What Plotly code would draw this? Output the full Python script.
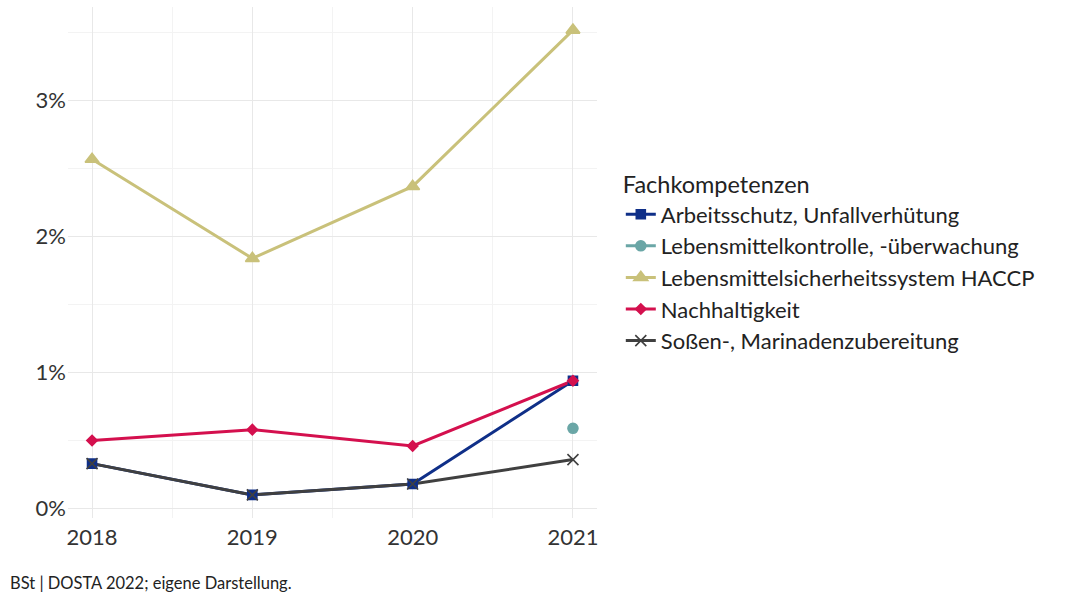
import plotly.graph_objects as go

years = [2018, 2019, 2020, 2021]
series_names = [
    "Arbeitsschutz, Unfallverhütung",
    "Lebensmittelkontrolle, -überwachung",
    "Lebensmittelsicherheitssystem HACCP",
    "Nachhaltigkeit",
    "Soßen-, Marinadenzubereitung",
]
arbeitsschutz = [0.0033, 0.0010, 0.0018, 0.0094]
lebensmittelkontrolle = [None, None, None, 0.0059]
haccp = [0.0257, 0.0184, 0.0237, 0.0352]
nachhaltigkeit = [0.0050, 0.0058, 0.0046, 0.0094]
sossen = [0.0033, 0.0010, 0.0018, 0.0036]
y_ticks = [0, 0.01, 0.02, 0.03]
y_tick_labels = ["0%", "1%", "2%", "3%"]

values = [arbeitsschutz, lebensmittelkontrolle, haccp, nachhaltigkeit, sossen]
colors = ["#0f2f88", "#6aa6a6", "#c9c17a", "#d4104e", "#404040"]
symbols = ["square", "circle", "triangle-up", "diamond", "x-thin-open"]
sizes = [9, 10, 12, 8, 11]

FONT = "Lato"
fig = go.Figure()

# legend entries
for name, c, s, sz in zip(series_names, colors, symbols, sizes):
    fig.add_trace(go.Scatter(
        x=[None], y=[None], mode="lines+markers", name=name,
        line=dict(color=c, width=3),
        marker=dict(symbol=s, size=sz, color=c, line=dict(color=c, width=1.6)),
    ))

# lines first
for name, vals, c in zip(series_names, values, colors):
    fig.add_trace(go.Scatter(
        x=years, y=vals, mode="lines", showlegend=False, hoverinfo="skip",
        line=dict(color=c, width=3),
    ))

# points on top
for name, vals, c, s, sz in zip(series_names, values, colors, symbols, sizes):
    fig.add_trace(go.Scatter(
        x=years, y=vals, mode="markers", showlegend=False, name=name,
        marker=dict(symbol=s, size=sz, color=c, line=dict(color=c, width=1.6)),
    ))

fig.update_layout(
    width=1078, height=596,
    margin=dict(l=68, r=481, t=7, b=78, autoexpand=False),
    paper_bgcolor="white", plot_bgcolor="white",
    font=dict(family=FONT, size=22, color="#222222"),
    xaxis=dict(
        range=[2017.85, 2021.15], tickmode="array", tickvals=years,
        ticktext=[str(y) for y in years], showgrid=True, gridcolor="#e8e8e8",
        gridwidth=1.4, zeroline=False, showline=False, ticks="",
        tickfont=dict(size=22, color="#333333"), automargin=False,
        ticklabelstandoff=4,
        minor=dict(tickmode="array", tickvals=[2018.5, 2019.5, 2020.5],
                   showgrid=True, gridcolor="#f3f3f3", gridwidth=1),
    ),
    yaxis=dict(
        range=[-0.0007, 0.0369], tickmode="array", tickvals=y_ticks,
        ticktext=y_tick_labels, showgrid=True, gridcolor="#e8e8e8",
        gridwidth=1.4, zeroline=False, showline=False, ticks="",
        tickfont=dict(size=22, color="#333333"), ticklabelstandoff=1,
        automargin=False,
        minor=dict(tickmode="array", tickvals=[0.005, 0.015, 0.025, 0.035],
                   showgrid=True, gridcolor="#f3f3f3", gridwidth=1),
    ),
    legend=dict(
        x=1.045, xanchor="left", y=0.695, yanchor="top",
        title=dict(text="Fachkompetenzen", font=dict(size=23.5, color="#222222")),
        font=dict(size=22, color="#222222"), bgcolor="rgba(0,0,0,0)",
        itemwidth=30, tracegroupgap=0,
    ),
    annotations=[dict(
        text="BSt | DOSTA 2022; eigene Darstellung.", xref="paper", yref="paper",
        x=-0.113, y=-0.127, xanchor="left", yanchor="middle", showarrow=False,
        font=dict(size=16.5, color="#222222"),
    )],
)

fig.write_html("out.html", config={"displayModeBar": False},
               post_script="document.body.style.margin='0';")
